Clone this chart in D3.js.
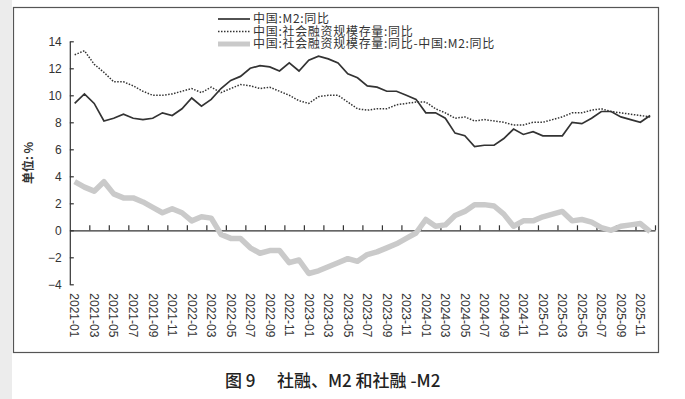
<!DOCTYPE html>
<html>
<head>
<meta charset="utf-8">
<script src="https://cdn.jsdelivr.net/npm/d3@7"></script>
<style>
  body { margin: 0; background: #fff; }
  svg { display: block; }
  .tick text { font-family: "Liberation Sans", Arial, sans-serif; font-size: 12px; fill: #333; }
  .cjk { font-family: "Noto Sans CJK SC", sans-serif; }
</style>
</head>
<body>
<div id="chart"></div>
<script>
// month categories, 2021-01 .. 2025-12
var months = [
  '2021-01','2021-02','2021-03','2021-04','2021-05','2021-06','2021-07','2021-08','2021-09','2021-10','2021-11','2021-12',
  '2022-01','2022-02','2022-03','2022-04','2022-05','2022-06','2022-07','2022-08','2022-09','2022-10','2022-11','2022-12',
  '2023-01','2023-02','2023-03','2023-04','2023-05','2023-06','2023-07','2023-08','2023-09','2023-10','2023-11','2023-12',
  '2024-01','2024-02','2024-03','2024-04','2024-05','2024-06','2024-07','2024-08','2024-09','2024-10','2024-11','2024-12',
  '2025-01','2025-02','2025-03','2025-04','2025-05','2025-06','2025-07','2025-08','2025-09','2025-10','2025-11','2025-12'
];

// 中国:M2:同比
var m2 = [
  9.4, 10.1, 9.4, 8.1, 8.3, 8.6, 8.3, 8.2, 8.3, 8.7, 8.5, 9.0,
  9.8, 9.2, 9.7, 10.5, 11.1, 11.4, 12.0, 12.2, 12.1, 11.8, 12.4, 11.8,
  12.6, 12.9, 12.7, 12.4, 11.6, 11.3, 10.7, 10.6, 10.3, 10.3, 10.0, 9.7,
  8.7, 8.7, 8.3, 7.2, 7.0, 6.2, 6.3, 6.3, 6.8, 7.5, 7.1, 7.3,
  7.0, 7.0, 7.0, 8.0, 7.9, 8.3, 8.8, 8.8, 8.4, 8.2, 8.0, 8.5
];

// 中国:社会融资规模存量:同比
var tsf = [
  13.0, 13.3, 12.3, 11.7, 11.0, 11.0, 10.7, 10.3, 10.0, 10.0, 10.1, 10.3,
  10.5, 10.2, 10.6, 10.2, 10.5, 10.8, 10.7, 10.5, 10.6, 10.3, 10.0, 9.6,
  9.4, 9.9, 10.0, 10.0, 9.5, 9.0, 8.9, 9.0, 9.0, 9.3, 9.4, 9.5,
  9.5, 9.0, 8.7, 8.3, 8.4, 8.1, 8.2, 8.1, 8.0, 7.8, 7.8, 8.0,
  8.0, 8.2, 8.4, 8.7, 8.7, 8.9, 9.0, 8.8, 8.7, 8.6, 8.5, 8.4
];

// 社融 - M2
var diff = [
  3.6, 3.2, 2.9, 3.6, 2.7, 2.4, 2.4, 2.1, 1.7, 1.3, 1.6, 1.3,
  0.7, 1.0, 0.9, -0.3, -0.6, -0.6, -1.3, -1.7, -1.5, -1.5, -2.4, -2.2,
  -3.2, -3.0, -2.7, -2.4, -2.1, -2.3, -1.8, -1.6, -1.3, -1.0, -0.6, -0.2,
  0.8, 0.3, 0.4, 1.1, 1.4, 1.9, 1.9, 1.8, 1.2, 0.3, 0.7, 0.7,
  1.0, 1.2, 1.4, 0.7, 0.8, 0.6, 0.2, 0.0, 0.3, 0.4, 0.5, -0.1
];

var yTicks = [-4, -2, 0, 2, 4, 6, 8, 10, 12, 14];
var legendNames = ['中国:M2:同比', '中国:社会融资规模存量:同比', '中国:社会融资规模存量:同比-中国:M2:同比'];
var yLabel = '单位: %';
var captionNo = '图 9';
var captionText = '社融、M2 和社融 -M2';

(function() {
  var W = 685, H = 399;
  var pLeft = 69.8, pRight = 655, pTop = 41.3, pBottom = 284.3;

  var svg = d3.select('#chart').append('svg')
    .attr('width', W).attr('height', H);

  // page background and frame
  svg.append('rect').attr('x', 0).attr('y', 0).attr('width', 12).attr('height', H).attr('fill', '#ececec');
  svg.append('rect').attr('x', 13.5).attr('y', 7.5).attr('width', 645).attr('height', 345)
    .attr('fill', '#fff').attr('stroke', '#555').attr('stroke-width', 1.2);

  var x = d3.scaleBand().domain(months).range([pLeft, pRight]).padding(0);
  var xb = d3.scaleLinear().domain([0, months.length]).range([pLeft, pRight]);
  var y = d3.scaleLinear().domain([-4, 14]).range([pBottom, pTop]);
  var cx = function(i) { return x(months[i]) + x.bandwidth() / 2; };

  // y axis, ticks pointing inside
  var yAxis = svg.append('g').attr('transform', 'translate(' + pLeft + ',0)')
    .call(d3.axisLeft(y).tickValues(yTicks).tickSize(-4).tickSizeOuter(0).tickPadding(8));
  yAxis.selectAll('path, line').attr('stroke', '#333').attr('stroke-width', 1.2);

  // zero line with ticks between every second month
  var zAxis = svg.append('g').attr('transform', 'translate(0,' + y(0) + ')')
    .call(d3.axisTop(xb).tickValues(d3.range(2, months.length + 1, 2)).tickSize(5).tickSizeOuter(0).tickFormat(''));
  zAxis.selectAll('path, line').attr('stroke', '#333').attr('stroke-width', 1.2);

  // month labels under the plot
  var xAxis = svg.append('g').attr('transform', 'translate(0,' + pBottom + ')')
    .call(d3.axisBottom(x).tickValues(months.filter(function(d, i) { return i % 2 === 0; })).tickSize(0));
  xAxis.select('.domain').remove();
  xAxis.selectAll('text')
    .attr('transform', 'rotate(90)')
    .attr('x', 9).attr('y', 0).attr('dy', '0.35em')
    .attr('text-anchor', 'start');

  // series
  var line = d3.line().x(function(d, i) { return cx(i); }).y(function(d) { return y(d); });

  svg.append('path').datum(diff).attr('d', line)
    .attr('fill', 'none').attr('stroke', '#cacaca').attr('stroke-width', 5.5).attr('stroke-linejoin', 'round');
  svg.append('path').datum(m2).attr('d', line)
    .attr('fill', 'none').attr('stroke', '#333').attr('stroke-width', 1.7);
  svg.append('path').datum(tsf).attr('d', line)
    .attr('fill', 'none').attr('stroke', '#333').attr('stroke-width', 1.5).attr('stroke-dasharray', '1.5,1.5');

  // legend
  var legendStyles = [
    { stroke: '#333', width: 1.7, dash: null },
    { stroke: '#333', width: 1.5, dash: '1.5,1.5' },
    { stroke: '#cacaca', width: 5, dash: null }
  ];
  var legend = svg.append('g').selectAll('g').data(legendNames).enter().append('g')
    .attr('transform', function(d, i) { return 'translate(218,' + (19 + i * 12.5) + ')'; });
  legend.append('line').attr('x1', 0).attr('x2', 32).attr('y1', 0).attr('y2', 0)
    .attr('stroke', function(d, i) { return legendStyles[i].stroke; })
    .attr('stroke-width', function(d, i) { return legendStyles[i].width; })
    .attr('stroke-dasharray', function(d, i) { return legendStyles[i].dash; });
  legend.append('text').attr('class', 'cjk').attr('x', 35).attr('dy', '0.35em')
    .attr('font-size', 12).attr('letter-spacing', '0.7px').attr('fill', '#333')
    .text(function(d) { return d; });

  // y label
  svg.append('text').attr('class', 'cjk')
    .attr('transform', 'translate(29,163) rotate(-90)')
    .attr('text-anchor', 'middle').attr('dy', '0.35em')
    .attr('font-size', 12).attr('font-weight', 'bold').attr('fill', '#333')
    .text(yLabel);

  // caption
  svg.append('text').attr('class', 'cjk').attr('x', 225).attr('y', 387)
    .attr('font-size', 17).attr('font-weight', 500).attr('fill', '#222').text(captionNo);
  svg.append('text').attr('class', 'cjk').attr('x', 277).attr('y', 387)
    .attr('font-size', 17).attr('font-weight', 500).attr('fill', '#222').text(captionText);
})();
</script>
</body>
</html>
